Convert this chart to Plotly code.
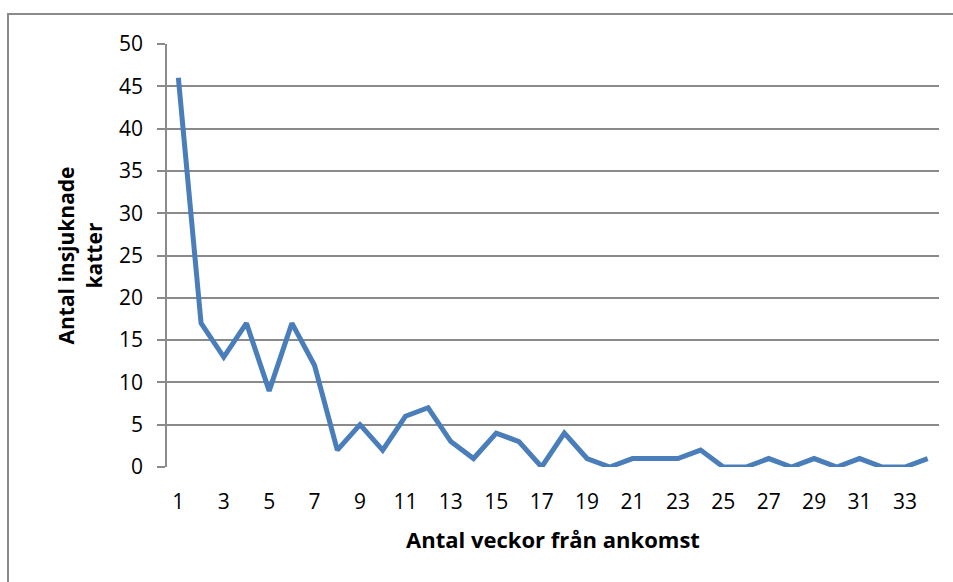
import plotly.graph_objects as go

weeks = list(range(1, 35))
cases = [46, 17, 13, 17, 9, 17, 12, 2, 5, 2, 6, 7, 3, 1, 4, 3, 0, 4, 1, 0,
         1, 1, 1, 2, 0, 0, 1, 0, 1, 0, 1, 0, 0, 1]
x_tick_vals = list(range(1, 35, 2))
x_tick_text = [str(v) for v in x_tick_vals]
y_tick_vals = list(range(0, 55, 5))

FONT = "'Open Sans', sans-serif"

fig = go.Figure()
fig.add_trace(go.Scatter(x=weeks, y=cases, mode="lines",
                         line=dict(color="#4a7ebb", width=5),
                         showlegend=False))

fig.update_layout(
    width=953, height=582,
    margin=dict(l=167, r=14, t=44, b=115),
    paper_bgcolor="white", plot_bgcolor="white",
    font=dict(family=FONT, size=21, color="black"),
    xaxis=dict(range=[0.5, 34.5], tickmode="array", tickvals=x_tick_vals,
               ticktext=x_tick_text, showgrid=False, zeroline=False,
               showline=False, ticks="", ticklabelstandoff=20,
               tickfont=dict(size=21),
               title=dict(text="<b>Antal veckor från ankomst</b>",
                          font=dict(size=22), standoff=18)),
    yaxis=dict(range=[0, 50], tickmode="array", tickvals=y_tick_vals,
               showgrid=True, gridcolor="#8a8a8a", gridwidth=1.8,
               zeroline=False, showline=True, linecolor="#8a8a8a", linewidth=1.8,
               ticks="outside", ticklen=8, tickcolor="#8a8a8a", tickwidth=1.8,
               ticklabelstandoff=10, tickfont=dict(size=21),
               title=dict(text="<b>Antal insjuknade<br>katter</b>",
                          font=dict(size=21), standoff=11)),
    shapes=[dict(type="rect", xref="paper", yref="paper",
                 x0=(8 - 167) / 772, x1=1.1, y0=-0.5, y1=(467 - 14) / 423,
                 line=dict(color="#8a8a8a", width=2), fillcolor="rgba(0,0,0,0)",
                 layer="below")],
)

fig.write_html("out.html", config={"displayModeBar": False},
               post_script="document.body.style.margin='0';document.body.style.overflow='hidden';")
